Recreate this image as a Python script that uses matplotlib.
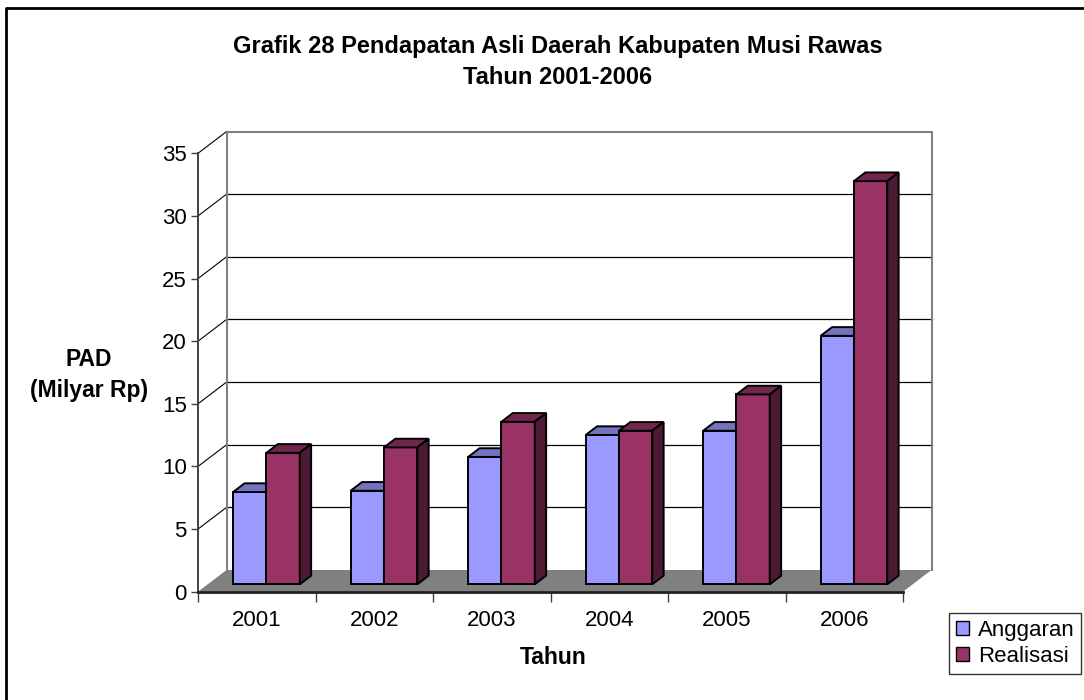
import numpy as np
import matplotlib.pyplot as plt
from matplotlib.patches import Polygon, Rectangle, Patch
from matplotlib.lines import Line2D

# data (Milyar Rp)
years = ['2001', '2002', '2003', '2004', '2005', '2006']
anggaran = [7.37, 7.47, 10.17, 11.92, 12.26, 19.84]
realisasi = [10.50, 10.93, 12.98, 12.26, 15.16, 32.19]
y_ticks = [0, 5, 10, 15, 20, 25, 30, 35]

plt.rcParams['font.family'] = ['Liberation Sans', 'DejaVu Sans']

W, H = 1084, 700
fig = plt.figure(figsize=(W / 100, H / 100), dpi=100)
fig.patch.set_facecolor('white')

# front plane of the pseudo-3D box, in pixels
x0_px, x1_px = 198, 903
y0_px, y1_px = 591.7, 153.3
ax = fig.add_axes([x0_px / W, 1 - y0_px / H, (x1_px - x0_px) / W, (y0_px - y1_px) / H])
n = len(years)
ymax = 35
ax.set_xlim(0, n); ax.set_ylim(0, ymax)
ax.set_facecolor('none')

# depth of the box in data units (28.5 px right, 21.7 px up)
DX = 28.5 / ((x1_px - x0_px) / n)
DY = 21.7 / ((y0_px - y1_px) / ymax)

# floor
ax.add_patch(Polygon([(0, 0), (n, 0), (n + DX, DY), (DX, DY)], closed=True,
                     facecolor='#808080', edgecolor='none', zorder=1, clip_on=False))
# back wall gridlines and left wall diagonals
for v in y_ticks[1:-1]:
    ax.plot([DX, n + DX], [v + DY, v + DY], color='black', lw=0.9, zorder=1, clip_on=False)
for v in y_ticks[1:]:
    ax.plot([0, DX], [v, v + DY], color='black', lw=0.8, zorder=1, clip_on=False)
# back wall outline
ax.plot([DX, DX, n + DX, n + DX], [DY, ymax + DY, ymax + DY, DY], color='#808080', lw=1.5,
        zorder=1, clip_on=False)

# bars
bw = 33.3 / ((x1_px - x0_px) / n)
f0, fd = 0.34, 0.40
ox, oy = f0 * DX, f0 * DY
bx, by = fd * DX, fd * DY
series = [(anggaran, '#9999FF', '#7373C0', '#4D4D80', -1),
          (realisasi, '#993366', '#73264D', '#4D1A33', 0)]
for i in range(n):
    for vals, c_front, c_top, c_side, k in series:
        v = vals[i]
        left = i + 0.5 + k * bw + ox
        base = oy
        ax.add_patch(Rectangle((left, base), bw, v, facecolor=c_front, edgecolor='black',
                               lw=1.4, zorder=3, clip_on=False))
        ax.add_patch(Polygon([(left, base + v), (left + bw, base + v), (left + bw + bx, base + v + by),
                              (left + bx, base + v + by)], closed=True, facecolor=c_top,
                             edgecolor='black', lw=1.4, zorder=3, clip_on=False))
        ax.add_patch(Polygon([(left + bw, base), (left + bw + bx, base + by), (left + bw + bx, base + v + by),
                              (left + bw, base + v)], closed=True, facecolor=c_side,
                             edgecolor='black', lw=1.4, zorder=3, clip_on=False))

# axes
for s in ['top', 'right']:
    ax.spines[s].set_visible(False)
ax.spines['left'].set_color('#404040'); ax.spines['left'].set_linewidth(1.4)
ax.spines['bottom'].set_color('#202020'); ax.spines['bottom'].set_linewidth(2)
ax.spines['left'].set_zorder(4); ax.spines['bottom'].set_zorder(4)
ax.set_yticks(y_ticks)
ax.set_yticklabels([str(t) for t in y_ticks], fontsize=16)
ax.tick_params(axis='y', direction='out', length=5, width=1, color='#404040', pad=3)
ax.set_xticks(np.arange(n + 1))
ax.set_xticklabels([''] * (n + 1))
ax.tick_params(axis='x', which='major', direction='out', length=7, width=1, color='#404040')
ax.set_xticks(np.arange(n) + 0.5, minor=True)
ax.set_xticklabels(years, minor=True, fontsize=16)
ax.tick_params(axis='x', which='minor', length=0, pad=13)

# texts
fig.text(558 / W, 1 - 46 / H, 'Grafik 28 Pendapatan Asli Daerah Kabupaten Musi Rawas',
         ha='center', va='center', fontsize=17, fontweight='bold')
fig.text(558 / W, 1 - 77 / H, 'Tahun 2001-2006', ha='center', va='center',
         fontsize=17, fontweight='bold')
fig.text(89 / W, 1 - 359 / H, 'PAD', ha='center', va='center', fontsize=16.5, fontweight='bold')
fig.text(89 / W, 1 - 390 / H, '(Milyar Rp)', ha='center', va='center', fontsize=16.5, fontweight='bold')
fig.text(553 / W, 1 - 658 / H, 'Tahun', ha='center', va='center', fontsize=16.5, fontweight='bold')

# outer frame (left and top edges visible)
fig.add_artist(Line2D([6 / W, 6 / W, 1.01], [-0.01, 1 - 8 / H, 1 - 8 / H], color='black', lw=2))

handles = [Patch(facecolor='#9999FF', edgecolor='black', label='Anggaran'),
           Patch(facecolor='#993366', edgecolor='black', label='Realisasi')]
leg = fig.legend(handles=handles, loc='upper left', bbox_to_anchor=(949 / W, 1 - 613 / H),
                 fontsize=16, frameon=True, fancybox=False, handlelength=0.6, handleheight=0.6,
                 handletextpad=0.4, labelspacing=0.25, borderpad=0.3, borderaxespad=0)
leg.get_frame().set_edgecolor('black')
leg.get_frame().set_linewidth(1)

fig.savefig('out.png', dpi=100)
